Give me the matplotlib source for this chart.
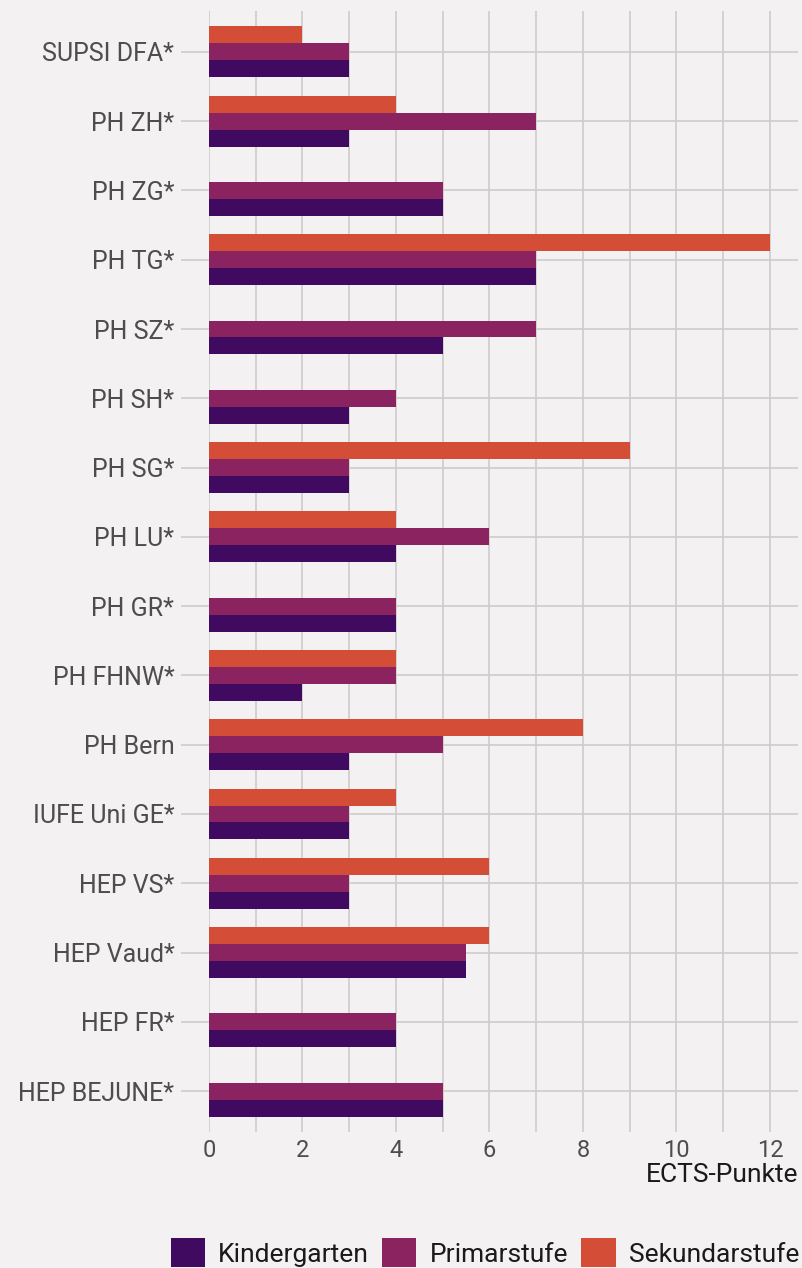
import numpy as np
import matplotlib
matplotlib.use("Agg")
import matplotlib.pyplot as plt
from matplotlib.patches import Patch

plt.rcParams['font.family'] = ['Roboto', 'DejaVu Sans']

# data
schools = ["SUPSI DFA*", "PH ZH*", "PH ZG*", "PH TG*", "PH SZ*", "PH SH*", "PH SG*",
           "PH LU*", "PH GR*", "PH FHNW*", "PH Bern", "IUFE Uni GE*", "HEP VS*",
           "HEP Vaud*", "HEP FR*", "HEP BEJUNE*"]
kindergarten = [3, 3, 5, 7, 5, 3, 3, 4, 4, 2, 3, 3, 3, 5.5, 4, 5]
primarstufe = [3, 7, 5, 7, 7, 4, 3, 6, 4, 4, 5, 3, 3, 5.5, 4, 5]
sekundarstufe = [2, 4, np.nan, 12, np.nan, np.nan, 9, 4, np.nan, 4, 8, 4, 6, 6, np.nan, np.nan]
series_names = ["Kindergarten", "Primarstufe", "Sekundarstufe"]
colors = ["#3f0a5f", "#8b2361", "#d44e37"]
xticks = [0, 2, 4, 6, 8, 10, 12]

bg = "#f4f1f2"
grid_c = "#cfcbcd"

fig = plt.figure(figsize=(8.03, 12.68), dpi=100, facecolor=bg)
ax = fig.add_axes([209 / 803, 1 - 1132 / 1268, 589 / 803, 1121 / 1268], facecolor=bg)

y = np.arange(len(schools))
h = 0.245
ax.barh(y + h, kindergarten, height=h, color=colors[0], zorder=3)
ax.barh(y, primarstufe, height=h, color=colors[1], zorder=3)
ax.barh(y - h, sekundarstufe, height=h, color=colors[2], zorder=3)

ax.set_ylim(len(schools) - 1 + 0.59, -0.59)
ax.set_xlim(0, 12.6)
ax.set_yticks(y)
ax.set_yticklabels(schools)
ax.set_xticks(xticks)
ax.set_xticks(np.arange(1, 13, 2), minor=True)

ax.grid(True, which='both', color=grid_c, linewidth=1.2, zorder=0)
for s in ax.spines.values():
    s.set_visible(False)

ax.tick_params(axis='y', length=20, width=1.2, color=grid_c, pad=5,
               labelsize=18, labelcolor="#4d4d4d")
ax.tick_params(axis='x', which='both', length=0, pad=5,
               labelsize=17, labelcolor="#4d4d4d")

fig.text(798 / 803, 1 - 1175 / 1268, "ECTS-Punkte", ha='right', va='center',
         fontsize=19, color="#1a1a1a")

handles = [Patch(facecolor=c, label=n) for c, n in zip(colors, series_names)]
fig.legend(handles=handles, loc='lower right', bbox_to_anchor=(823 / 803, -0.018),
           ncol=3, frameon=False, fontsize=19, handlelength=1.3, handleheight=1.3,
           handletextpad=0.5, columnspacing=0.5, labelcolor="#1a1a1a")

fig.savefig("out.png", dpi=100, facecolor=bg)
